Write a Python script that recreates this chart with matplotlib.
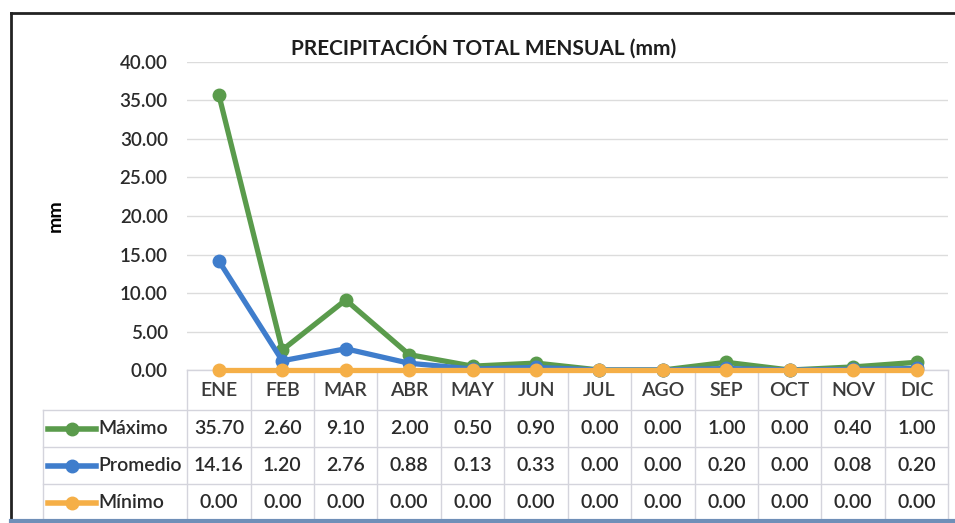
import numpy as np
import matplotlib
matplotlib.use("Agg")
import matplotlib.pyplot as plt
from matplotlib.lines import Line2D

plt.rcParams['font.family'] = ['Lato', 'DejaVu Sans']

meses = ["ENE", "FEB", "MAR", "ABR", "MAY", "JUN", "JUL", "AGO", "SEP", "OCT", "NOV", "DIC"]
maximo = [35.70, 2.60, 9.10, 2.00, 0.50, 0.90, 0.00, 0.00, 1.00, 0.00, 0.40, 1.00]
promedio = [14.16, 1.20, 2.76, 0.88, 0.13, 0.33, 0.00, 0.00, 0.20, 0.00, 0.08, 0.20]
minimo = [0.00] * 12

series = [("Máximo", maximo, "#5A9B4C"),
          ("Promedio", promedio, "#3F7DCC"),
          ("Mínimo", minimo, "#F5AF47")]

fig = plt.figure(figsize=(9.55, 5.23), dpi=100)
ax = fig.add_axes([0.196, 0.2925, 0.797, 0.589])

x = np.arange(len(meses))
for k, (nombre, vals, col) in enumerate(series):
    ax.plot(x, vals, color=col, lw=3.8, marker="o", ms=9, solid_capstyle="round",
            zorder=3 + k, clip_on=False)

ax.set_xlim(-0.5, 11.5)
ax.set_ylim(0, 40)
ax.set_yticks(np.arange(0, 41, 5))
ax.set_yticklabels([f"{v:.2f}" for v in np.arange(0, 41, 5)], fontsize=13.5,
                   color="#2a2a2a", fontweight="semibold")
ax.set_xticks([])
ax.tick_params(axis="y", length=0, pad=14)
for s in ax.spines.values():
    s.set_visible(False)
ax.grid(axis="y", color="#dcdcdc", lw=1)
ax.set_axisbelow(True)
ax.set_ylabel("mm", fontsize=14, fontweight="bold", labelpad=40)
ax.set_title("PRECIPITACIÓN TOTAL MENSUAL (mm)", fontsize=15, fontweight="bold",
             color="#1e1e1e", pad=5, x=0.39)

# data table under the plot
trans = ax.get_xaxis_transform()
hpx = 308.0
head_h = 40 / hpx
row_h = 37 / hpx
tops = [-head_h - i * row_h for i in range(4)]
leg_left = -144 / 761.0
grid_kw = dict(color="#d4d4dc", lw=1, clip_on=False)

ax.plot([0, 1], [0, 0], transform=ax.transAxes, **grid_kw)
for t in tops[:-1]:
    ax.plot([leg_left, 1], [t, t], transform=ax.transAxes, **grid_kw)
for i in range(len(meses) + 1):
    ax.plot([i - 0.5, i - 0.5], [0, tops[-1]], transform=trans, **grid_kw)
ax.plot([leg_left, leg_left], [tops[0], tops[-1]], transform=ax.transAxes, **grid_kw)

for i, m in enumerate(meses):
    ax.text(i, -head_h / 2, m, transform=trans, ha="center", va="center",
            fontsize=14, color="#3a3a3a", fontweight="semibold")

for r, (nombre, vals, col) in enumerate(series):
    yc = tops[r] - row_h / 2
    ax.add_line(Line2D([leg_left + 0.006, leg_left + 0.07], [yc, yc], color=col, lw=4,
                       transform=ax.transAxes, clip_on=False))
    ax.add_line(Line2D([leg_left + 0.038], [yc], color=col, marker="o", ms=9,
                       transform=ax.transAxes, clip_on=False))
    ax.text(leg_left + 0.072, yc, nombre, transform=ax.transAxes, ha="left", va="center",
            fontsize=14, color="#2a2a2a", fontweight="semibold")
    for i, v in enumerate(vals):
        ax.text(i, yc, f"{v:.2f}", transform=trans, ha="center", va="center",
                fontsize=14, color="#2a2a2a", fontweight="semibold")

# chart frame: left and top border, bluish base line
fig.add_artist(Line2D([11 / 955, 11 / 955], [2 / 523, 510 / 523], color="#222222", lw=2))
fig.add_artist(Line2D([11 / 955, 1], [510 / 523, 510 / 523], color="#222222", lw=2))
fig.add_artist(Line2D([11 / 955, 1], [2 / 523, 2 / 523], color="#6f8fb8", lw=3))

fig.savefig("out.png", dpi=100)
